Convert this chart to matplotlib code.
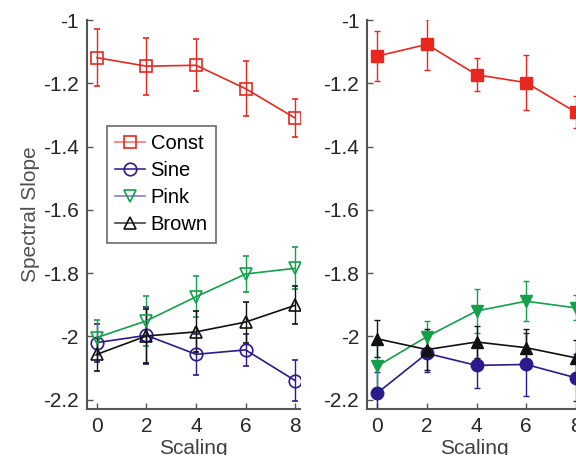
import matplotlib
matplotlib.use("Agg")
import matplotlib.pyplot as plt
from matplotlib.lines import Line2D

plt.rcParams['font.family'] = ['Liberation Sans', 'DejaVu Sans']

scaling = [0, 2, 4, 6, 8]
series_names = ["Const", "Sine", "Pink", "Brown"]

# Left panel (open markers)
left_const = [-1.119, -1.146, -1.143, -1.217, -1.310]
left_const_err = [0.09, 0.09, 0.083, 0.087, 0.06]
left_sine = [-2.020, -1.997, -2.057, -2.043, -2.140]
left_sine_err = [0.06, 0.09, 0.065, 0.05, 0.065]
left_pink = [-2.004, -1.951, -1.875, -1.803, -1.785]
left_pink_err = [0.055, 0.08, 0.065, 0.057, 0.067]
left_brown = [-2.057, -1.999, -1.986, -1.955, -1.902]
left_brown_err = [0.053, 0.085, 0.065, 0.065, 0.06]

# Right panel (filled markers)
right_const = [-1.114, -1.077, -1.173, -1.198, -1.291]
right_const_err = [0.08, 0.08, 0.053, 0.088, 0.05]
right_sine = [-2.179, -2.054, -2.092, -2.089, -2.131]
right_sine_err = [0.065, 0.06, 0.07, 0.1, 0.075]
right_pink = [-2.094, -2.001, -1.920, -1.889, -1.910]
right_pink_err = [0.07, 0.05, 0.07, 0.063, 0.04]
right_brown = [-2.008, -2.042, -2.018, -2.036, -2.068]
right_brown_err = [0.058, 0.065, 0.05, 0.06, 0.055]

yticks = [-2.2, -2.0, -1.8, -1.6, -1.4, -1.2, -1.0]
ytick_labels = ["-2.2", "-2", "-1.8", "-1.6", "-1.4", "-1.2", "-1"]

colors = ["#e8281e", "#2b1a8e", "#12a04a", "#111111"]
legend_line_colors = ["#f07a72", "#3a2a9a", "#8a7ad0", "#444444"]
markers = ["s", "o", "v", "^"]

fig = plt.figure(figsize=(5.76, 4.55), dpi=100)
ax1 = fig.add_axes([0.151, 0.101, 0.370, 0.855])
ax2 = fig.add_axes([0.638, 0.101, 0.370, 0.855])

left_data = [(left_const, left_const_err), (left_sine, left_sine_err),
             (left_pink, left_pink_err), (left_brown, left_brown_err)]
right_data = [(right_const, right_const_err), (right_sine, right_sine_err),
              (right_pink, right_pink_err), (right_brown, right_brown_err)]

for i, (vals, errs) in enumerate(left_data):
    ax1.errorbar(scaling, vals, yerr=errs, color=colors[i], marker=markers[i],
                 markersize=9, markerfacecolor='none', markeredgewidth=1.2,
                 linewidth=1.2, elinewidth=1.0, capsize=2)

for i, (vals, errs) in enumerate(right_data):
    ax2.errorbar(scaling, vals, yerr=errs, color=colors[i], marker=markers[i],
                 markersize=9, markerfacecolor=colors[i], markeredgewidth=1.0,
                 linewidth=1.2, elinewidth=1.0, capsize=2)

for ax in (ax1, ax2):
    ax.set_xlim(-0.4, 8.2)
    ax.set_ylim(-2.23, -1.0)
    ax.set_xticks(scaling)
    ax.set_xticklabels([str(s) for s in scaling])
    ax.set_yticks(yticks)
    ax.set_yticklabels(ytick_labels)
    ax.spines['top'].set_visible(False)
    ax.spines['right'].set_visible(False)
    for s in ('left', 'bottom'):
        ax.spines[s].set_color('#555555')
        ax.spines[s].set_linewidth(1.5)
    ax.tick_params(direction='in', length=4, width=1, colors='#555555',
                   labelcolor='#262626', labelsize=15, pad=6)
    ax.set_xlabel("Scaling", fontsize=15, color='#404040', labelpad=2)

ax1.set_ylabel("Spectral Slope", fontsize=15, color='#505050', labelpad=2)

handles = [Line2D([], [], color=legend_line_colors[i], marker=markers[i],
                  markersize=9, markerfacecolor='none', markeredgecolor=colors[i],
                  markeredgewidth=1.2, linewidth=1.2)
           for i in range(4)]
leg = ax1.legend(handles, series_names, loc='upper left', bbox_to_anchor=(0.095, 0.727),
                 fontsize=14.5, frameon=True, fancybox=False, edgecolor='#444444',
                 handlelength=1.5, handletextpad=0.25, borderpad=0.4,
                 labelspacing=0.40, borderaxespad=0)
leg.get_frame().set_linewidth(1.2)

fig.savefig("out.png", dpi=100)
